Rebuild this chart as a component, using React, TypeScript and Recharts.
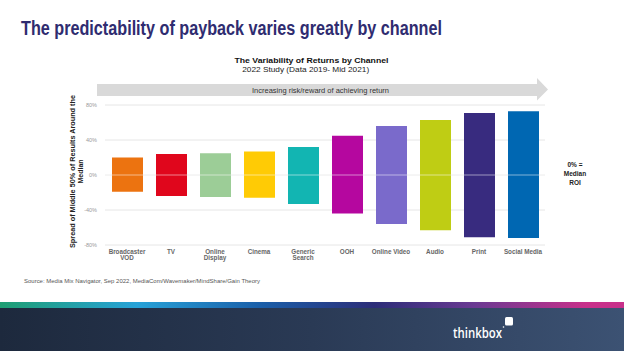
import React from 'react';
import { BarChart, Bar, XAxis, YAxis, CartesianGrid, ReferenceLine, Cell } from 'recharts';

const categories = ['Broadcaster VOD', 'TV', 'Online Display', 'Cinema', 'Generic Search', 'OOH', 'Online Video', 'Audio', 'Print', 'Social Media'];
const tickLines = [['Broadcaster', 'VOD'], ['TV'], ['Online', 'Display'], ['Cinema'], ['Generic', 'Search'], ['OOH'], ['Online Video'], ['Audio'], ['Print'], ['Social Media']];
const lowValues = [-19, -24, -25, -26, -33, -44, -56, -63, -71, -72];
const highValues = [20, 24, 25, 27, 32, 45, 56, 63, 71, 73];
const barColors = ['#ec7310', '#e0061c', '#9ccd97', '#ffcb05', '#12b5b2', '#b5079f', '#7a6acb', '#bfcd14', '#382b7f', '#0067b2'];
const yTicks = [-80, -40, 0, 40, 80];

const data = categories.map((c, i) => ({ name: c, range: [lowValues[i], highValues[i]] }));

const FONT = '"Liberation Sans", Arial, sans-serif';

const XTick = (props: any) => {
  const { x, y, payload } = props;
  const lines = tickLines[payload.index] || [payload.value];
  return (
    <g>
      {lines.map((l: string, i: number) => (
        <text key={i} x={x} y={y + 0.5 + i * 6.5} textAnchor="middle" fontSize={6.3} fontWeight="bold" fill="#666" fontFamily={FONT}>
          {l}
        </text>
      ))}
    </g>
  );
};

export default function App() {
  return (
    <div style={{ position: 'absolute', left: 0, top: 0, width: 624, height: 351, background: '#fff', overflow: 'hidden' }}>
      <svg width={624} height={351} style={{ position: 'absolute', left: 0, top: 0 }} fontFamily={FONT}>
        <defs>
          <linearGradient id="strip" x1="0" y1="0" x2="1" y2="0">
            <stop offset="0%" stopColor="#1f9e72" />
            <stop offset="22%" stopColor="#27a2d8" />
            <stop offset="42%" stopColor="#1b5ea8" />
            <stop offset="60%" stopColor="#2c2d78" />
            <stop offset="76%" stopColor="#6a3a92" />
            <stop offset="94%" stopColor="#c8308a" />
            <stop offset="100%" stopColor="#c8308a" />
          </linearGradient>
          <linearGradient id="band" x1="0" y1="0" x2="1" y2="0">
            <stop offset="0%" stopColor="#1d293d" />
            <stop offset="50%" stopColor="#2a3a55" />
            <stop offset="100%" stopColor="#3c5273" />
          </linearGradient>
        </defs>
        <text x={21} y={35} fontSize={20} fontWeight="bold" fill="#2f2c70" textLength={421} lengthAdjust="spacingAndGlyphs">
          The predictability of payback varies greatly by channel
        </text>
        <text x={311.5} y={63} textAnchor="middle" fontSize={7} fontWeight="bold" fill="#111" textLength={154} lengthAdjust="spacingAndGlyphs">
          The Variability of Returns by Channel
        </text>
        <text x={305.7} y={72.3} textAnchor="middle" fontSize={7.5} fill="#222" textLength={127} lengthAdjust="spacingAndGlyphs">
          2022 Study (Data 2019- Mid 2021)
        </text>
        <polygon points="97,84 537,84 537,78 548,89.5 537,100.5 537,96 97,96" fill="#d9d9d9" />
        <text x={320.5} y={92.5} textAnchor="middle" fontSize={6.5} fill="#333" textLength={137} lengthAdjust="spacingAndGlyphs">
          Increasing risk/reward of achieving return
        </text>
        <g transform="translate(75,171.5) rotate(-90)">
          <text x={0} y={0} textAnchor="middle" fontSize={7} fontWeight="bold" fill="#222" textLength={153} lengthAdjust="spacingAndGlyphs">
            Spread of Middle 50% of Results Around the
          </text>
        </g>
        <g transform="translate(82.5,171.5) rotate(-90)">
          <text x={0} y={0} textAnchor="middle" fontSize={7} fontWeight="bold" fill="#222">
            Median
          </text>
        </g>
        <text x={575} y={167.3} textAnchor="middle" fontSize={6.5} fontWeight="bold" fill="#222">0% =</text>
        <text x={575} y={176.3} textAnchor="middle" fontSize={6.5} fontWeight="bold" fill="#222">Median</text>
        <text x={575} y={185} textAnchor="middle" fontSize={6.5} fontWeight="bold" fill="#222">ROI</text>
        <text x={24} y={283} fontSize={5.5} fill="#555" textLength={236} lengthAdjust="spacingAndGlyphs">
          Source: Media Mix Navigator, Sep 2022, MediaCom/Wavemaker/MindShare/Gain Theory
        </text>
        <rect x={0} y={302} width={624} height={6} fill="url(#strip)" />
        <rect x={0} y={308} width={624} height={43} fill="url(#band)" />
        <text x={453} y={337.5} fontSize={14} fontWeight="600" fill="#fff" textLength={49} lengthAdjust="spacingAndGlyphs" fontFamily='"Open Sans", sans-serif'>
          thinkbox
        </text>
        <rect x={505} y={317} width={8} height={8.5} rx={1.5} fill="#fff" />
        <circle cx={503.5} cy={327} r={0.8} fill="#fff" />
      </svg>
      <div style={{ position: 'absolute', left: 0, top: 0 }}>
        <BarChart width={624} height={351} data={data} margin={{ top: 105, right: 79, left: 75, bottom: 76 }} barCategoryGap={0}>
          <CartesianGrid horizontal={true} vertical={false} stroke="#e6e6e6" />
          <XAxis dataKey="name" axisLine={false} tickLine={false} height={30} interval={0} tick={<XTick />} />
          <YAxis
            domain={[-80, 80]}
            ticks={yTicks}
            width={30}
            axisLine={false}
            tickLine={false}
            tickFormatter={(v: number) => `${v}%`}
            tick={{ fontSize: 5.5, fill: '#999', fontFamily: FONT }}
          />
          <Bar dataKey="range" barSize={31} isAnimationActive={false}>
            {data.map((d, i) => (
              <Cell key={d.name} fill={barColors[i]} />
            ))}
          </Bar>
          <ReferenceLine y={0} stroke="#ffffff" strokeOpacity={0.5} strokeWidth={1} zIndex={1000} ifOverflow="visible" />
        </BarChart>
      </div>
    </div>
  );
}
